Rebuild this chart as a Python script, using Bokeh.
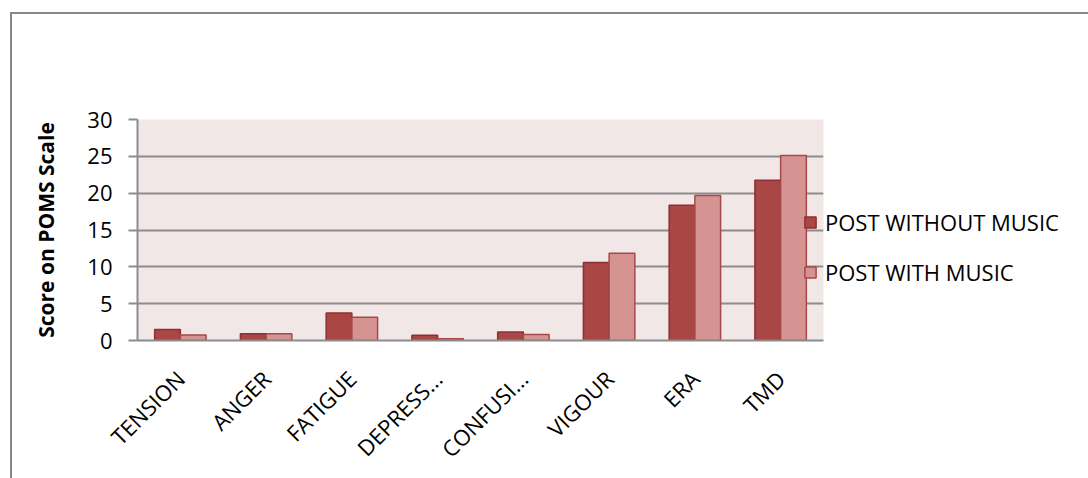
from math import pi
from bokeh.plotting import figure
from bokeh.models import ColumnDataSource, FactorRange, Range1d, Legend, LegendItem, FixedTicker
from bokeh.transform import dodge
from bokeh.embed import file_html
from bokeh.resources import INLINE

categories = ["TENSION", "ANGER", "FATIGUE", "DEPRESS...", "CONFUSI...", "VIGOUR", "ERA", "TMD"]
post_without_music = [1.5, 0.9, 3.75, 0.7, 1.15, 10.6, 18.35, 21.75]
post_with_music = [0.75, 0.9, 3.15, 0.25, 0.8, 11.85, 19.7, 25.1]
series_names = ["POST WITHOUT MUSIC", "POST WITH MUSIC"]
y_ticks = [0, 5, 10, 15, 20, 25, 30]

src = ColumnDataSource(data=dict(cat=categories, a=post_without_music, b=post_with_music))

FONT = "Open Sans"
GRID = "#8c8c8c"

p = figure(x_range=FactorRange(*categories, range_padding=0), y_range=Range1d(0, 30),
           frame_width=686, frame_height=221,
           min_border_left=125, min_border_right=265, min_border_top=105, min_border_bottom=138,
           output_backend="svg", toolbar_location=None,
           background_fill_color="#F2E7E7", border_fill_color="white", outline_line_color=None)
p.styles = {"border-top": "2px solid #878787", "border-left": "2px solid #878787",
            "margin-left": "10px", "margin-top": "12px"}

r1 = p.vbar(x=dodge("cat", -0.15, range=p.x_range), top="a", width=0.3, source=src,
            fill_color="#AA4644", line_color="#8A3232", line_width=1.5)
r2 = p.vbar(x=dodge("cat", 0.15, range=p.x_range), top="b", width=0.3, source=src,
            fill_color="#D59392", line_color="#A84848", line_width=1.5)

p.xgrid.grid_line_color = None
p.ygrid.grid_line_color = GRID
p.ygrid.grid_line_width = 2
p.ygrid.ticker = FixedTicker(ticks=y_ticks)

p.yaxis.ticker = FixedTicker(ticks=y_ticks)
p.yaxis.axis_line_color = GRID
p.yaxis.axis_line_width = 2
p.yaxis.major_tick_line_color = GRID
p.yaxis.major_tick_line_width = 2
p.yaxis.major_tick_out = 9
p.yaxis.major_tick_in = 0
p.yaxis.minor_tick_line_color = None
p.yaxis.major_label_standoff = 16
p.yaxis.major_label_text_font = FONT
p.yaxis.major_label_text_font_size = "22px"
p.yaxis.major_label_text_color = "black"
p.yaxis.axis_label = "Score on POMS Scale"
p.yaxis.axis_label_text_font = FONT
p.yaxis.axis_label_text_font_size = "21px"
p.yaxis.axis_label_text_font_style = "bold"
p.yaxis.axis_label_text_color = "black"
p.yaxis.axis_label_standoff = 24

p.xaxis.axis_line_color = GRID
p.xaxis.axis_line_width = 2
p.xaxis.major_tick_line_color = None
p.xaxis.minor_tick_line_color = None
p.xaxis.major_label_orientation = pi / 4
p.xaxis.major_label_text_font = FONT
p.xaxis.major_label_text_font_size = "22px"
p.xaxis.major_label_text_color = "black"
p.xaxis.major_label_standoff = 28

legend = Legend(items=[LegendItem(label=series_names[0], renderers=[r1]),
                       LegendItem(label=series_names[1], renderers=[r2])],
                location=(-20, 53), padding=0, margin=0, spacing=20,
                glyph_width=14, glyph_height=14, label_height=28, label_standoff=8,
                label_text_font=FONT, label_text_font_size="22px", label_text_color="black",
                border_line_color=None, background_fill_alpha=0)
p.add_layout(legend, "right")

open("out.html", "w").write(file_html(p, INLINE))
